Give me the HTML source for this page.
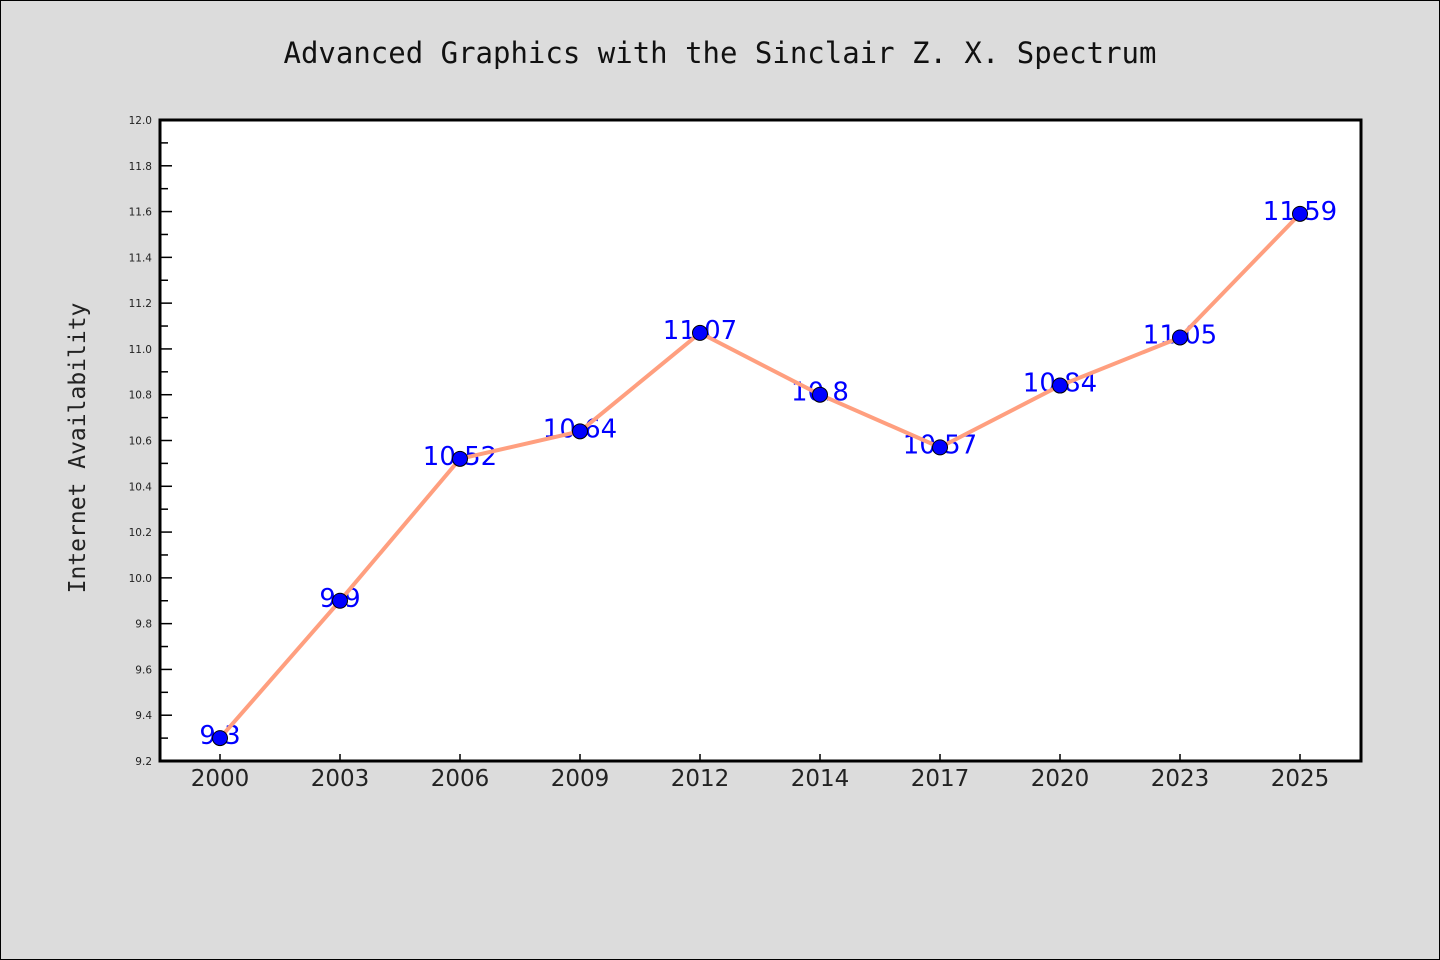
<!DOCTYPE html>
<html><head><meta charset="utf-8"><style>
body{margin:0;background:#dcdcdc;}
svg{display:block;}
</style></head><body>
<svg width="1440" height="960" xmlns="http://www.w3.org/2000/svg">
<rect x="0.5" y="0.5" width="1439" height="959" fill="#dcdcdc" stroke="#000"/>
<text x="720" y="63" text-anchor="middle" font-family="DejaVu Sans Mono, Liberation Mono, monospace" font-size="29" fill="#111">Advanced Graphics with the Sinclair Z. X. Spectrum</text>
<text transform="translate(85,448) rotate(-90)" text-anchor="middle" font-family="DejaVu Sans Mono, Liberation Mono, monospace" font-size="23" fill="#222">Internet Availability</text>
<rect x="160" y="120" width="1201" height="641" fill="#fff"/>
<g id="axes"></g>
<g id="labels"></g>
<g id="marks"></g>
<rect x="160" y="120" width="1201" height="641" fill="none" stroke="#000" stroke-width="3"/>
</svg>
<script>
const categories=["2000","2003","2006","2009","2012","2014","2017","2020","2023","2025"];
const values=[9.3,9.9,10.52,10.64,11.07,10.8,10.57,10.84,11.05,11.59];
const valueLabels=["9.3","9.9","10.52","10.64","11.07","10.8","10.57","10.84","11.05","11.59"];
const yTicks=[9.2,9.4,9.6,9.8,10.0,10.2,10.4,10.6,10.8,11.0,11.2,11.4,11.6,11.8,12.0];
const yMin=9.2,yMax=12.0;
const L=160,R=1361,T=120,B=761;
const ns="http://www.w3.org/2000/svg";
const y=v=>B-(v-yMin)/(yMax-yMin)*(B-T);
const x=i=>220+i*120;
function mk(tag,attrs,parent){const e=document.createElementNS(ns,tag);for(const k in attrs)e.setAttribute(k,attrs[k]);parent.appendChild(e);return e;}
const ax=document.getElementById('axes'),lb=document.getElementById('labels'),mg=document.getElementById('marks');
yTicks.forEach((t,i)=>{
  const yy=y(t);
  const tk=mk('line',{x1:L,x2:L+12,y1:yy,y2:yy,stroke:'#000','stroke-width':1.5},ax);
  
  
  if(i<yTicks.length-1){const ym=y(t+0.1);
    const mt=mk('line',{x1:L,x2:L+8,y1:ym,y2:ym,stroke:'#000','stroke-width':1.5},ax);
    
    }
  const tl=mk('text',{x:L-8,y:yy+4,'text-anchor':'end','font-family':'DejaVu Sans, Liberation Sans, sans-serif','font-size':10.5,fill:'#222'},ax);
  tl.textContent=t.toFixed(1);
  
  
});
categories.forEach((c,i)=>{
  const xt=mk('line',{x1:x(i),x2:x(i),y1:B,y2:B-7,stroke:'#000','stroke-width':1.5},ax);
  
  
  const xl=mk('text',{x:x(i),y:B+25,'text-anchor':'middle','font-family':'DejaVu Sans, Liberation Sans, sans-serif','font-size':23,fill:'#222'},ax);
  xl.textContent=c;
  
  
  const vl=mk('text',{x:x(i),y:y(values[i])+6,'text-anchor':'middle','font-family':'DejaVu Sans, Liberation Sans, sans-serif','font-size':26,fill:'#0000ff'},lb);
  vl.textContent=valueLabels[i];
  
  
});
const ln=mk('polyline',{points:values.map((v,i)=>x(i)+','+y(v)).join(' '),fill:'none',stroke:'#ff9f7f','stroke-width':4,'stroke-linejoin':'round'},mg);


values.forEach((v,i)=>{
  const c=mk('circle',{cx:x(i),cy:y(v),r:7.5,fill:'#0000ff',stroke:'#000','stroke-width':1},mg);
  
  
});
</script>
</body></html>
